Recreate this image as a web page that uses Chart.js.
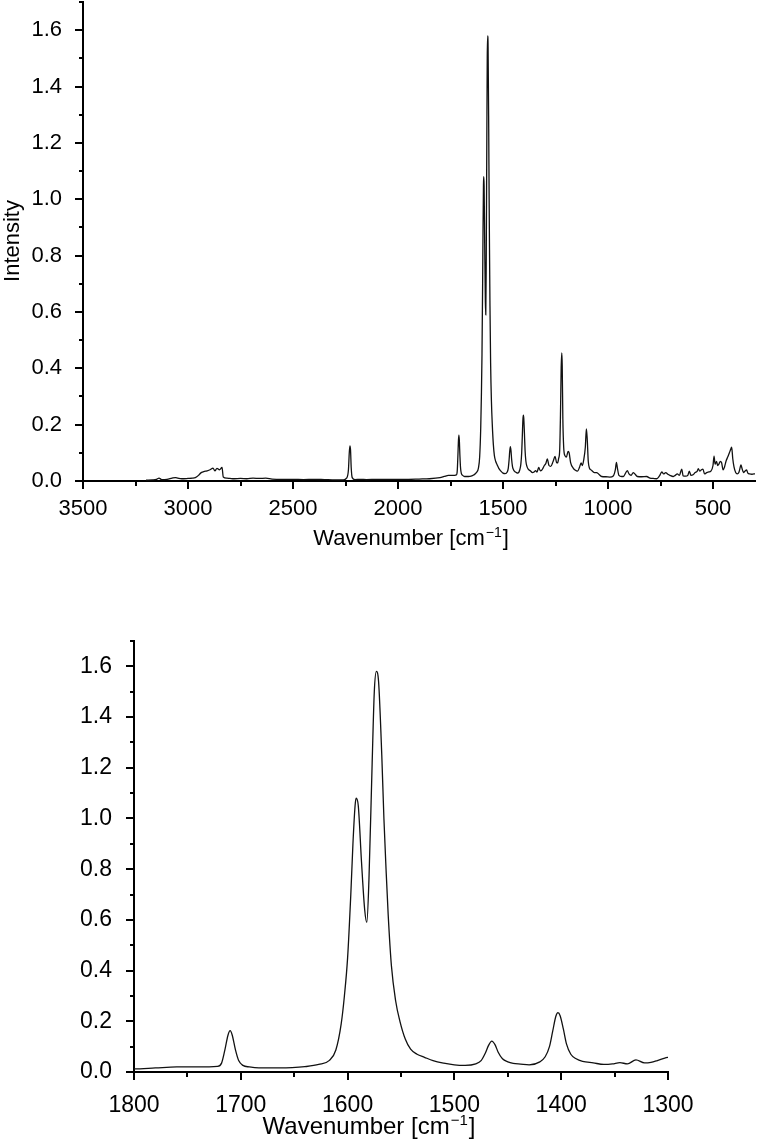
<!DOCTYPE html>
<html>
<head>
<meta charset="utf-8">
<script src="https://cdn.jsdelivr.net/npm/chart.js@4"></script>
<style>
  body { margin: 0; background: #fff; }
  canvas { position: absolute; left: 0; }
  #full { top: 0; }
  #zoom { top: 560px; }
</style>
</head>
<body>
<canvas id="full" width="758" height="558"></canvas>
<canvas id="zoom" width="758" height="581"></canvas>
<script>
// Raman spectrum (wavenumber in cm-1, intensity)
const wavenumbers = [
  3200, 3170, 3150, 3138, 3125, 3100, 3076, 3060, 3048, 3030, 3000, 2980, 2965, 2950, 2940,
  2925, 2910, 2895, 2881, 2872, 2862, 2850, 2838, 2832, 2815, 2800, 2780, 2750, 2720, 2690,
  2660, 2630, 2600, 2550, 2500, 2450, 2400, 2350, 2300, 2260, 2245, 2236, 2232, 2229, 2226,
  2223, 2218, 2205, 2180, 2150, 2100, 2050, 2000, 1950, 1900, 1850, 1800, 1780, 1760, 1740,
  1722, 1718, 1715, 1712, 1710, 1708, 1705, 1702, 1698, 1692, 1683, 1665, 1652, 1640, 1627,
  1617, 1611, 1606, 1603, 1600, 1597, 1595, 1593, 1592, 1590, 1587, 1584, 1582, 1580, 1577,
  1575, 1573, 1571, 1568, 1566, 1564, 1562, 1559, 1555, 1551, 1546, 1541, 1535, 1528, 1520,
  1510, 1500, 1490, 1480, 1475, 1471, 1468, 1465, 1462, 1459, 1455, 1450, 1445, 1438, 1430,
  1420, 1415, 1411, 1408, 1405, 1403, 1401, 1398, 1395, 1391, 1386, 1380, 1370, 1360, 1352,
  1345, 1338, 1330, 1322, 1316, 1310, 1303, 1296, 1289, 1281, 1273, 1262, 1252, 1245, 1240,
  1235, 1230, 1226, 1223, 1220, 1218, 1215, 1211, 1205, 1198, 1190, 1185, 1178, 1165, 1157,
  1145, 1135, 1128, 1122, 1115, 1108, 1103, 1099, 1094, 1088, 1080, 1065, 1054, 1045, 1030,
  1010, 991, 975, 965, 960, 955, 948, 935, 927, 915, 908, 900, 890, 880, 872,
  860, 840, 816, 800, 785, 768, 755, 744, 735, 725, 715, 705, 690, 680, 670,
  660, 649, 642, 630, 620, 613, 605, 595, 585, 575, 570, 563, 555, 548, 540,
  530, 520, 510, 500, 495, 490, 483, 478, 472, 465, 459, 452, 445, 438, 430,
  422, 417, 411, 406, 400, 392, 385, 377, 370, 367, 362, 355, 348, 340, 334,
  325, 315, 305, 300
];
const intensity = [
  0.003, 0.004, 0.006, 0.010, 0.005, 0.006, 0.010, 0.012, 0.010, 0.008, 0.009, 0.010, 0.012, 0.020, 0.028,
  0.033, 0.036, 0.040, 0.046, 0.036, 0.045, 0.040, 0.048, 0.014, 0.010, 0.009, 0.008, 0.009, 0.008, 0.010,
  0.009, 0.010, 0.007, 0.006, 0.006, 0.005, 0.006, 0.005, 0.004, 0.004, 0.010, 0.040, 0.100, 0.125, 0.110,
  0.050, 0.012, 0.005, 0.006, 0.005, 0.006, 0.006, 0.006, 0.006, 0.007, 0.008, 0.012, 0.016, 0.020, 0.020,
  0.022, 0.035, 0.085, 0.145, 0.163, 0.145, 0.087, 0.045, 0.026, 0.020, 0.016, 0.016, 0.017, 0.021, 0.030,
  0.046, 0.087, 0.190, 0.300, 0.450, 0.700, 0.900, 1.050, 1.080, 1.050, 0.830, 0.640, 0.590, 0.760, 1.220,
  1.500, 1.580, 1.540, 1.250, 1.000, 0.800, 0.620, 0.420, 0.280, 0.200, 0.130, 0.090, 0.070, 0.058, 0.045,
  0.035, 0.028, 0.026, 0.032, 0.045, 0.075, 0.105, 0.122, 0.108, 0.078, 0.052, 0.040, 0.034, 0.031, 0.028,
  0.040, 0.060, 0.100, 0.160, 0.220, 0.234, 0.222, 0.170, 0.110, 0.070, 0.052, 0.042, 0.036, 0.030, 0.032,
  0.037, 0.032, 0.048, 0.036, 0.038, 0.045, 0.055, 0.062, 0.078, 0.055, 0.052, 0.068, 0.087, 0.066, 0.064,
  0.080, 0.110, 0.250, 0.400, 0.455, 0.410, 0.220, 0.120, 0.090, 0.085, 0.105, 0.100, 0.065, 0.045, 0.039,
  0.035, 0.050, 0.064, 0.055, 0.078, 0.120, 0.185, 0.150, 0.070, 0.045, 0.039, 0.030, 0.030, 0.025, 0.016,
  0.015, 0.014, 0.018, 0.040, 0.066, 0.045, 0.020, 0.016, 0.016, 0.030, 0.037, 0.025, 0.020, 0.030, 0.025,
  0.016, 0.015, 0.016, 0.010, 0.009, 0.008, 0.018, 0.032, 0.025, 0.030, 0.024, 0.020, 0.016, 0.020, 0.025,
  0.020, 0.042, 0.018, 0.017, 0.020, 0.035, 0.020, 0.022, 0.030, 0.035, 0.044, 0.035, 0.040, 0.042, 0.025,
  0.030, 0.032, 0.035, 0.055, 0.088, 0.060, 0.070, 0.055, 0.060, 0.070, 0.065, 0.040, 0.050, 0.070, 0.085,
  0.100, 0.110, 0.120, 0.080, 0.050, 0.030, 0.025, 0.030, 0.050, 0.057, 0.045, 0.030, 0.035, 0.039, 0.028,
  0.025, 0.024, 0.025, 0.025
];

// axis ticks
const fullXMajor = [3500, 3000, 2500, 2000, 1500, 1000, 500];
const fullXMinor = [3250, 2750, 2250, 1750, 1250, 750];
const zoomXMajor = [1800, 1700, 1600, 1500, 1400, 1300];
const zoomXMinor = [1750, 1650, 1550, 1450, 1350];
const yMajor = [0, 0.2, 0.4, 0.6, 0.8, 1.0, 1.2, 1.4, 1.6];
const yMinor = [0.1, 0.3, 0.5, 0.7, 0.9, 1.1, 1.3, 1.5, 1.7];

const FONT = "'Liberation Sans', Arial, sans-serif";
const points = wavenumbers.map((w, i) => ({ x: w, y: intensity[i] }));

// major / minor tick marks drawn outward from the axes
const tickMarks = {
    id: 'tickMarks',
    afterDraw(chart, args, opts) {
        const { ctx, scales: { x, y } } = chart;
        ctx.save();
        ctx.strokeStyle = '#000';
        ctx.lineWidth = 2;
        ctx.beginPath();
        const xt = (vals, len) => vals.forEach(v => {
            const px = Math.round(x.getPixelForValue(v));
            ctx.moveTo(px, x.top); ctx.lineTo(px, x.top + len);
        });
        const yt = (vals, len) => vals.forEach(v => {
            const py = Math.round(y.getPixelForValue(v));
            ctx.moveTo(y.right, py); ctx.lineTo(y.right - len, py);
        });
        xt(opts.xMajor, 8); xt(opts.xMinor, 5);
        yt(yMajor, 8); yt(yMinor, 4);
        ctx.stroke();
        ctx.restore();
    }
};

// axis titles, x title has a superscript unit
const axisTitles = {
    id: 'axisTitles',
    afterDraw(chart, args, opts) {
        const ctx = chart.ctx;
        const s = opts.size;
        ctx.save();
        ctx.fillStyle = '#000';
        ctx.textBaseline = 'alphabetic';
        ctx.textAlign = 'left';
        const main = 'Wavenumber [cm', sup = '\u22121', end = ']';
        ctx.font = `${s}px ${FONT}`;
        const w1 = ctx.measureText(main).width, w3 = ctx.measureText(end).width;
        const supFont = `${Math.round(s * 0.64)}px ${FONT}`;
        ctx.font = supFont;
        const w2 = ctx.measureText(sup).width;
        let tx = opts.xTitle[0] - (w1 + w2 + w3) / 2;
        const base = opts.xTitle[1] + s * 0.36;
        ctx.font = `${s}px ${FONT}`;
        ctx.fillText(main, tx, base);
        ctx.font = supFont;
        ctx.fillText(sup, tx + w1 + 1, base - s * 0.38);
        ctx.font = `${s}px ${FONT}`;
        ctx.fillText(end, tx + w1 + w2 + 2, base);

        ctx.translate(opts.yTitle[0], opts.yTitle[1]);
        ctx.rotate(-Math.PI / 2);
        ctx.textAlign = 'center';
        ctx.textBaseline = 'middle';
        ctx.fillText('Intensity', 0, 0);
        ctx.restore();
    }
};

function makeChart(id, cfg) {
    const tickFont = { family: FONT, size: cfg.tickSize };
    return new Chart(document.getElementById(id), {
        type: 'line',
        data: {
            datasets: [{
                data: points,
                borderColor: '#111',
                borderWidth: 1.3,
                pointRadius: 0,
                cubicInterpolationMode: 'monotone',
                fill: false
            }]
        },
        options: {
            responsive: false,
            animation: false,
            layout: { padding: cfg.padding },
            plugins: {
                legend: { display: false },
                tooltip: { enabled: false },
                tickMarks: { xMajor: cfg.xMajor, xMinor: cfg.xMinor },
                axisTitles: { size: cfg.titleSize, xTitle: cfg.xTitle, yTitle: cfg.yTitle }
            },
            scales: {
                x: {
                    type: 'linear',
                    reverse: true,
                    min: cfg.xMin,
                    max: cfg.xMax,
                    afterBuildTicks: s => { s.ticks = cfg.xMajor.map(v => ({ value: v })); },
                    afterFit: s => { s.height = cfg.xHeight; s.paddingLeft = 0; s.paddingRight = 0; },
                    grid: { display: false },
                    border: { display: true, color: '#000', width: 2 },
                    ticks: { color: '#000', font: tickFont, padding: cfg.xPad, maxRotation: 0, callback: v => String(v) }
                },
                y: {
                    min: 0,
                    max: 1.7,
                    afterBuildTicks: s => { s.ticks = yMajor.map(v => ({ value: v })); },
                    afterFit: s => { s.width = cfg.yWidth; s.paddingTop = 0; s.paddingBottom = 0; },
                    grid: { display: false },
                    border: { display: true, color: '#000', width: 2 },
                    ticks: { color: '#000', font: tickFont, padding: cfg.yPad, callback: v => v.toFixed(1) }
                }
            }
        },
        plugins: [tickMarks, axisTitles]
    });
}

makeChart('full', {
    xMin: 300, xMax: 3500, xMajor: fullXMajor, xMinor: fullXMinor,
    padding: { left: 0, top: 2, right: 3, bottom: 0 },
    yWidth: 83, xHeight: 77, tickSize: 22, titleSize: 22, xPad: 7, yPad: 13,
    xTitle: [410, 537], yTitle: [13, 241]
});

makeChart('zoom', {
    xMin: 1300, xMax: 1800, xMajor: zoomXMajor, xMinor: zoomXMinor,
    padding: { left: 0, top: 81, right: 90, bottom: 0 },
    yWidth: 134, xHeight: 69, tickSize: 23, titleSize: 24, xPad: 12, yPad: 14,
    xTitle: [368, 565], yTitle: [83, 856]
});
</script>
</body>
</html>
